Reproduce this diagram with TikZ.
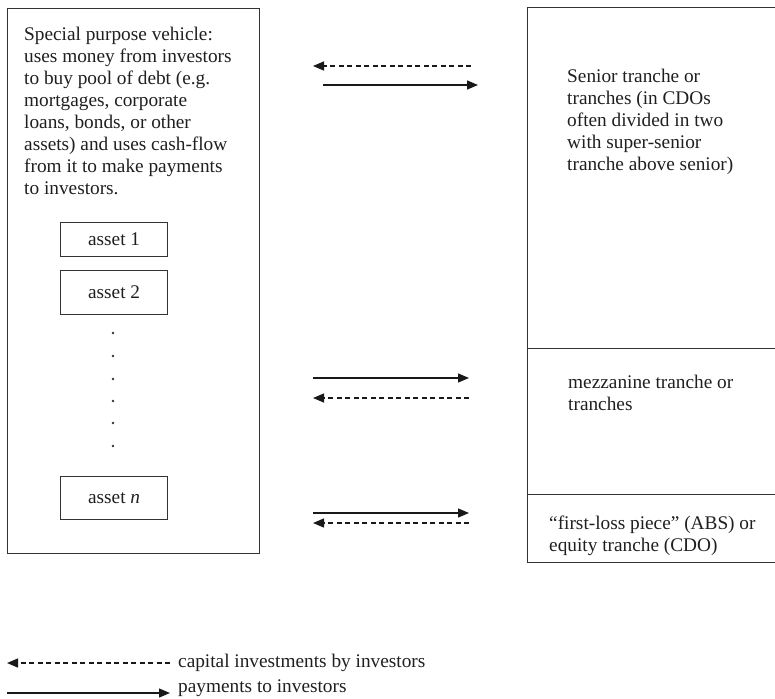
\documentclass[tikz,border=0pt]{standalone}
\usepackage{fontspec}
\setmainfont{Liberation Serif}
\usetikzlibrary{arrows.meta}
\begin{document}
\begin{tikzpicture}[x=1pt,y=-1pt,
  box/.style={draw=black!80, line width=1.2pt, inner sep=0pt, anchor=north west},
  txt/.style={inner sep=0pt, anchor=base west, align=left, font=\fontsize{19.3}{22}\selectfont, text=black!88},
  assetbox/.style={box, font=\fontsize{19.3}{22}\selectfont, text=black!88},
  payarrow/.style={draw=black!90, line width=1.3pt, -{Triangle[length=11pt,width=9pt]}},
  investarrow/.style={draw=black!90, line width=1.3pt, dash pattern=on 5pt off 3.5pt, -{Triangle[length=11pt,width=9pt]}},
]
\useasboundingbox (0,0) rectangle (775,698);

% special purpose vehicle
\node[box, minimum width=252pt, minimum height=545pt] (spv) at (7,8) {};
% base anchor of a multi-line node = baseline of its last line
\node[txt] (spvtext) at (24,194) {Special purpose vehicle:\\uses money from investors\\to buy pool of debt (e.g.\\mortgages, corporate\\loans, bonds, or other\\assets) and uses cash-flow\\from it to make payments\\to investors.};
\node[assetbox, minimum width=107pt, minimum height=34pt] (a1) at (60,222) {asset 1};
\node[assetbox, minimum width=107pt, minimum height=44pt] (a2) at (60,270) {asset 2};
\node[assetbox, minimum width=107pt, minimum height=43pt] (an) at (60,476) {asset \textit{n}};
\foreach \yy in {333,356,379,401,423,446} \fill[black!80] (113,\yy) circle (1.4pt);

% tranches
\node[box, minimum width=252pt, minimum height=341pt] (senior) at (527,7) {};
\node[box, minimum width=252pt, minimum height=146pt] (mezz) at (527,348) {};
\node[box, minimum width=252pt, minimum height=68pt] (first) at (527,494) {};
\node[txt] (seniortext) at (567,170) {Senior tranche or\\tranches (in CDOs\\often divided in two\\with super-senior\\tranche above senior)};
\node[txt] (mezztext) at (568,410) {mezzanine tranche or\\tranches};
\node[txt] (firsttext) at (549,551) {``first-loss piece'' (ABS) or\\equity tranche (CDO)};

% arrows
\coordinate (t1s) at (471,66); \coordinate (t1e) at (313,66);
\coordinate (t2s) at (323,85); \coordinate (t2e) at (478,85);
\coordinate (m1s) at (313,378); \coordinate (m1e) at (469,378);
\coordinate (m2s) at (469,398); \coordinate (m2e) at (313,398);
\coordinate (b1s) at (313,513); \coordinate (b1e) at (469,513);
\coordinate (b2s) at (469,523); \coordinate (b2e) at (313,523);
\draw[investarrow] (t1s) -- (t1e);
\draw[payarrow] (t2s) -- (t2e);
\draw[payarrow] (m1s) -- (m1e);
\draw[investarrow] (m2s) -- (m2e);
\draw[payarrow] (b1s) -- (b1e);
\draw[investarrow] (b2s) -- (b2e);

% legend
\coordinate (l1s) at (170,663); \coordinate (l1e) at (7,663);
\coordinate (l2s) at (7,693); \coordinate (l2e) at (170,693);
\draw[investarrow] (l1s) -- (l1e);
\draw[payarrow] (l2s) -- (l2e);
\node[txt] (leg1) at (178,667) {capital investments by investors};
\node[txt] (leg2) at (178,692) {payments to investors};
\end{tikzpicture}
\end{document}
